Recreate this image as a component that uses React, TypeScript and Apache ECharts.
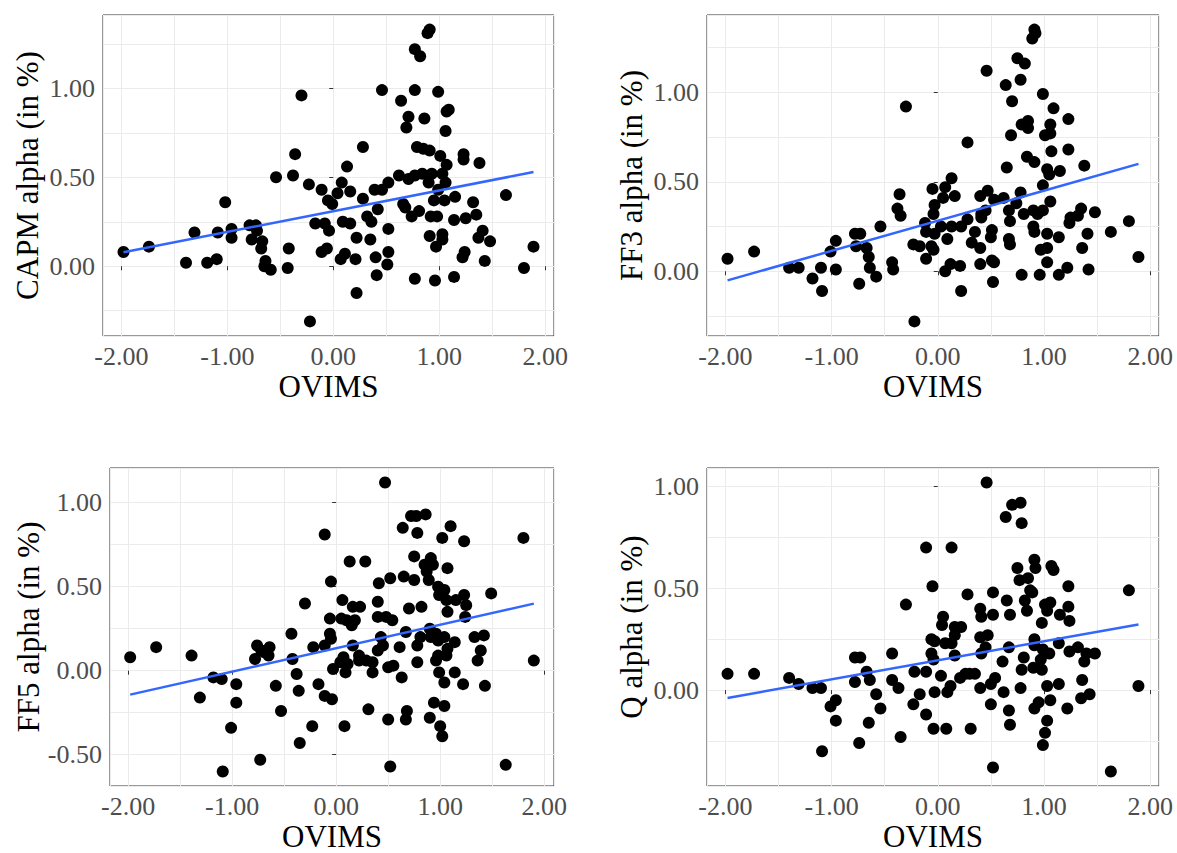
import React, { useEffect, useRef } from 'react';
import * as echarts from 'echarts';

// OVIMS (x) vs alpha (y)
const capmPoints: number[][] = [
  [-1.98,0.08],[-1.74,0.11],[-1.39,0.02],[-1.31,0.19],[-1.19,0.02],[-1.10,0.04],[-1.09,0.19],[-1.02,0.36],[-0.96,0.21],[-0.96,0.16],
  [-0.79,0.23],[-0.73,0.23],[-0.77,0.15],[-0.72,0.20],[-0.67,0.14],[-0.68,0.10],[-0.64,0.03],[-0.59,-0.02],[-0.65,0.00],[-0.43,-0.01],
  [-0.42,0.10],[-0.54,0.50],[-0.38,0.51],[-0.36,0.63],[-0.30,0.96],[-0.23,0.46],[-0.22,-0.31],[-0.17,0.24],[-0.11,0.43],[-0.08,0.24],
  [-0.04,0.20],[-0.11,0.08],[-0.06,0.10],[-0.05,0.37],[-0.01,0.35],[0.04,0.41],[0.08,0.47],[0.16,0.42],[0.07,0.04],[0.11,0.07],
  [0.09,0.25],[0.16,0.24],[0.21,0.04],[0.22,-0.15],[0.22,0.16],[0.13,0.56],[0.28,0.67],[0.28,0.38],[0.32,0.28],[0.36,0.25],
  [0.42,0.32],[0.35,0.15],[0.40,0.05],[0.41,-0.05],[0.39,0.43],[0.46,0.43],[0.46,0.99],[0.52,0.47],[0.52,0.21],[0.51,0.01],
  [0.52,0.08],[0.64,0.93],[0.71,0.84],[0.69,0.78],[0.62,0.51],[0.66,0.35],[0.68,0.33],[0.74,0.28],[0.77,1.22],[0.77,0.99],
  [0.77,-0.07],[0.71,0.49],[0.91,1.33],[0.89,1.31],[0.82,1.18],[0.99,0.98],[1.07,0.87],[1.09,0.88],[0.86,0.83],[1.06,0.76],
  [0.79,0.67],[0.85,0.66],[0.91,0.65],[1.01,0.62],[1.07,0.57],[1.23,0.63],[1.23,0.60],[1.38,0.58],[0.77,0.51],[0.84,0.52],
  [0.93,0.52],[1.03,0.52],[0.90,0.47],[1.06,0.47],[0.99,0.43],[1.15,0.39],[0.95,0.37],[1.05,0.37],[1.32,0.36],[1.63,0.40],
  [0.81,0.31],[0.92,0.28],[0.98,0.28],[1.14,0.26],[1.25,0.27],[1.35,0.29],[0.91,0.17],[1.03,0.18],[1.03,0.15],[0.97,0.11],
  [1.41,0.20],[1.37,0.16],[1.48,0.14],[1.24,0.08],[1.22,0.05],[1.43,0.03],[1.89,0.11],[1.80,-0.01],[0.96,-0.08],[1.14,-0.06]
];

const ff3Points: number[][] = [
  [-1.98,0.07],[-1.73,0.11],[-1.40,0.02],[-1.31,0.02],[-1.18,-0.04],[-1.09,-0.11],[-1.10,0.02],[-0.96,0.01],[-1.01,0.11],[-0.96,0.17],
  [-0.78,0.21],[-0.77,0.14],[-0.74,-0.07],[-0.73,0.21],[-0.67,0.13],[-0.65,0.08],[-0.64,0.02],[-0.58,-0.03],[-0.54,0.25],[-0.43,0.05],
  [-0.42,0.01],[-0.36,0.43],[-0.38,0.35],[-0.35,0.31],[-0.30,0.92],[-0.22,-0.28],[-0.23,0.15],[-0.17,0.14],[-0.11,0.07],[-0.12,0.27],
  [-0.11,0.22],[-0.06,0.14],[-0.04,0.12],[-0.03,0.21],[-0.05,0.46],[-0.03,0.37],[-0.04,0.32],[0.05,0.41],[0.07,0.47],[0.13,0.52],
  [0.16,0.42],[0.03,0.25],[0.09,0.18],[0.13,0.25],[0.22,0.25],[0.28,0.29],[0.28,0.72],[0.07,0.00],[0.12,0.04],[0.21,0.03],
  [0.22,-0.11],[0.32,0.16],[0.35,0.22],[0.40,0.13],[0.41,0.30],[0.41,0.32],[0.40,0.42],[0.47,0.45],[0.45,0.34],[0.40,0.04],
  [0.51,0.06],[0.53,0.05],[0.52,-0.06],[0.51,0.23],[0.50,0.19],[0.46,1.12],[0.53,0.40],[0.62,0.41],[0.67,0.34],[0.68,0.28],
  [0.67,0.18],[0.68,0.15],[0.65,0.58],[0.69,0.76],[0.70,0.95],[0.64,1.04],[0.75,1.19],[0.91,1.35],[0.92,1.33],[0.89,1.30],
  [0.82,1.16],[0.78,1.07],[0.99,0.99],[1.09,0.91],[1.23,0.85],[0.79,0.82],[0.85,0.84],[0.85,0.80],[1.06,0.82],[1.01,0.76],
  [1.06,0.77],[1.23,0.68],[1.07,0.67],[0.84,0.64],[0.91,0.61],[1.03,0.57],[1.05,0.54],[1.15,0.56],[1.38,0.59],[0.99,0.48],
  [0.78,0.44],[0.74,0.38],[1.06,0.39],[0.81,0.32],[0.90,0.34],[0.94,0.32],[0.99,0.34],[0.90,0.25],[0.91,0.22],[1.25,0.30],
  [1.24,0.27],[1.32,0.31],[1.35,0.35],[1.48,0.33],[1.80,0.28],[1.63,0.22],[1.41,0.21],[1.03,0.21],[1.14,0.19],[1.03,0.13],
  [0.97,0.12],[1.36,0.13],[1.03,0.05],[1.22,0.02],[1.42,0.01],[1.89,0.08],[0.79,-0.02],[0.96,-0.02],[1.14,-0.02]
];

const ff5Points: number[][] = [
  [-1.98,0.08],[-1.73,0.14],[-1.39,0.09],[-1.31,-0.16],[-1.18,-0.04],[-1.10,-0.05],[-0.96,-0.08],[-0.96,-0.19],[-1.01,-0.34],[-1.09,-0.60],
  [-0.73,-0.53],[-0.76,0.15],[-0.78,0.07],[-0.72,0.12],[-0.64,0.14],[-0.65,0.09],[-0.69,0.11],[-0.58,-0.09],[-0.53,-0.24],[-0.43,0.22],
  [-0.42,0.07],[-0.38,-0.02],[-0.36,-0.12],[-0.35,-0.43],[-0.30,0.40],[-0.23,-0.33],[-0.22,0.14],[-0.17,-0.08],[-0.11,-0.15],[-0.04,-0.17],
  [-0.11,0.81],[-0.05,0.53],[-0.11,0.15],[-0.06,0.22],[-0.06,0.31],[-0.05,0.19],[-0.03,0.01],[0.04,0.05],[0.07,0.08],[0.09,-0.01],
  [0.11,0.04],[0.08,-0.33],[0.06,0.42],[0.13,0.65],[0.28,0.65],[0.16,0.38],[0.23,0.38],[0.05,0.31],[0.10,0.30],[0.15,0.27],
  [0.18,0.30],[0.16,0.15],[0.22,0.09],[0.22,0.06],[0.29,0.06],[0.35,0.05],[0.35,-0.01],[0.31,-0.23],[0.41,0.52],[0.40,0.41],
  [0.40,0.32],[0.48,0.32],[0.54,0.30],[0.43,0.20],[0.45,0.15],[0.40,0.12],[0.52,0.55],[0.65,0.56],[0.75,0.54],[0.47,1.12],
  [0.64,0.85],[0.72,0.92],[0.77,0.92],[0.78,0.82],[0.75,0.68],[0.70,0.37],[0.67,0.23],[0.61,0.14],[0.50,0.02],[0.55,0.03],
  [0.63,-0.04],[0.78,0.05],[0.78,0.15],[0.68,-0.24],[0.67,-0.29],[0.50,-0.29],[0.52,-0.57],[0.86,0.93],[1.10,0.86],[1.02,0.79],
  [1.23,0.77],[1.80,0.79],[0.91,0.67],[0.85,0.63],[0.93,0.63],[0.87,0.59],[1.07,0.61],[0.89,0.54],[0.98,0.50],[1.04,0.48],
  [0.99,0.45],[1.06,0.42],[1.15,0.42],[1.23,0.45],[1.25,0.39],[1.49,0.46],[0.82,0.38],[1.07,0.35],[1.24,0.32],[0.81,0.20],
  [0.90,0.25],[0.91,0.20],[0.96,0.22],[0.98,0.18],[1.04,0.20],[1.14,0.17],[1.33,0.20],[1.42,0.21],[1.39,0.12],[1.36,0.06],
  [1.90,0.06],[0.96,0.06],[0.98,0.09],[1.07,0.13],[1.06,0.09],[0.99,-0.01],[1.04,-0.07],[1.14,-0.01],[1.22,-0.08],[1.43,-0.09],
  [0.94,-0.19],[1.04,-0.21],[0.90,-0.28],[1.00,-0.33],[1.02,-0.39],[1.63,-0.56]
];

const qPoints: number[][] = [
  [-1.98,0.08],[-1.73,0.08],[-1.40,0.06],[-1.31,0.03],[-1.18,0.01],[-1.10,0.01],[-1.01,-0.08],[-0.96,-0.05],[-0.96,-0.15],[-1.09,-0.30],
  [-0.74,-0.26],[-0.78,0.16],[-0.78,0.04],[-0.73,0.16],[-0.67,0.09],[-0.64,0.05],[-0.58,-0.02],[-0.54,-0.09],[-0.65,-0.16],[-0.43,0.18],
  [-0.43,0.05],[-0.37,0.01],[-0.35,-0.23],[-0.30,0.42],[-0.22,0.09],[-0.23,-0.07],[-0.17,-0.02],[-0.11,0.09],[-0.11,-0.12],[-0.11,0.70],
  [-0.05,0.51],[-0.06,0.25],[-0.03,0.24],[-0.06,0.18],[-0.04,0.15],[-0.03,-0.01],[-0.04,-0.19],[0.03,0.07],[0.05,0.36],[0.04,0.32],
  [0.07,0.23],[0.13,0.23],[0.13,0.70],[0.09,-0.01],[0.12,0.02],[0.08,-0.19],[0.16,0.17],[0.16,0.31],[0.16,0.27],[0.22,0.31],
  [0.21,0.06],[0.26,0.08],[0.30,0.08],[0.35,0.08],[0.28,0.47],[0.31,-0.19],[0.40,0.40],[0.41,0.36],[0.40,0.26],[0.47,0.27],
  [0.45,0.21],[0.41,0.18],[0.40,0.01],[0.50,0.03],[0.54,0.06],[0.50,-0.07],[0.52,0.48],[0.52,0.37],[0.46,1.02],[0.52,-0.38],
  [0.61,0.14],[0.62,-0.01],[0.65,0.44],[0.68,0.37],[0.67,0.21],[0.67,-0.10],[0.68,-0.17],[0.64,0.85],[0.70,0.91],[0.78,0.92],
  [0.79,0.82],[0.75,0.60],[0.77,0.54],[0.91,0.64],[0.92,0.60],[0.85,0.55],[1.07,0.61],[1.09,0.59],[1.23,0.51],[1.80,0.49],
  [0.87,0.49],[0.89,0.48],[0.82,0.44],[0.84,0.39],[1.01,0.42],[1.06,0.43],[1.03,0.39],[1.23,0.41],[1.15,0.37],[1.24,0.34],
  [0.98,0.33],[0.91,0.25],[0.91,0.22],[0.99,0.20],[1.05,0.18],[0.97,0.15],[1.14,0.23],[1.24,0.19],[1.32,0.21],[1.40,0.18],
  [1.48,0.18],[1.38,0.14],[0.81,0.16],[0.79,0.10],[0.90,0.11],[0.98,0.10],[0.78,0.01],[1.03,0.02],[1.14,0.03],[1.36,0.05],
  [1.43,-0.02],[1.35,-0.04],[1.06,-0.05],[0.95,-0.06],[0.91,-0.09],[1.22,-0.09],[1.03,-0.15],[1.01,-0.21],[0.99,-0.27],[1.89,0.02],
  [1.63,-0.40]
];

const xTickValues = [-2, -1, 0, 1, 2];
const yTickValues = [-0.5, 0, 0.5, 1];
const xAxisTitle = 'OVIMS';
const yAxisTitles = ['CAPM alpha (in %)', 'FF3 alpha (in %)', 'FF5 alpha (in %)', 'Q alpha (in %)'];

const FONT = "'Liberation Serif', 'DejaVu Serif', serif";

function olsFit(pts: number[][]) {
  const n = pts.length;
  let sx = 0, sy = 0, sxx = 0, sxy = 0;
  pts.forEach(([x, y]) => { sx += x; sy += y; sxx += x * x; sxy += x * y; });
  const b = (n * sxy - sx * sy) / (n * sxx - sx * sx);
  const a = (sy - b * sx) / n;
  const xs = pts.map(p => p[0]);
  const x0 = Math.min(...xs), x1 = Math.max(...xs);
  return [[x0, a + b * x0], [x1, a + b * x1]];
}

function padded(vals: number[]) {
  const lo = Math.min(...vals), hi = Math.max(...vals);
  const r = hi - lo;
  return [lo - 0.05 * r, hi + 0.05 * r];
}

export default function App() {
  const ref = useRef<HTMLDivElement>(null);
  useEffect(() => {
    if (!ref.current) return;
    const chart = echarts.init(ref.current, undefined, { renderer: 'svg' });
    const panels = [capmPoints, ff3Points, ff5Points, qPoints];
    const grids = [
      { left: 103, top: 15, width: 451, height: 321 },
      { left: 707, top: 15, width: 452, height: 321 },
      { left: 110, top: 468, width: 444, height: 320 },
      { left: 707, top: 468, width: 452, height: 320 },
    ];
    const xAxes: any[] = [];
    const yAxes: any[] = [];
    const series: any[] = [];
    const isOn = (v: number, step: number) => Math.abs(v / step - Math.round(v / step)) < 1e-6;
    panels.forEach((pts, i) => {
      const [xmin, xmax] = padded(pts.map(p => p[0]));
      const [ymin, ymax] = padded(pts.map(p => p[1]));
      const xt = xTickValues.filter(v => v >= xmin && v <= xmax);
      const yt = yTickValues.filter(v => v >= ymin && v <= ymax);
      // grid-line axes
      xAxes.push({
        type: 'value', gridIndex: i, min: xmin, max: xmax, minInterval: 0.5, maxInterval: 0.5, position: 'bottom',
        axisLine: { show: false }, axisTick: { show: false }, axisLabel: { show: false },
        splitLine: { show: true, lineStyle: { color: '#ebebeb', width: 1 } },
      });
      yAxes.push({
        type: 'value', gridIndex: i, min: ymin, max: ymax, minInterval: 0.25, maxInterval: 0.25, position: 'left',
        axisLine: { show: false }, axisTick: { show: false }, axisLabel: { show: false },
        splitLine: { show: true, lineStyle: { color: '#ebebeb', width: 1 } },
      });
      // tick / label axes
      xAxes.push({
        type: 'value', gridIndex: i, min: xmin, max: xmax, minInterval: 1, maxInterval: 1, position: 'bottom',
        axisLine: { show: false },
        axisTick: { show: true, customValues: xt, length: 4, lineStyle: { color: '#333333', width: 1 } },
        axisLabel: {
          customValues: xt,
          formatter: (v: number) => (isOn(v, 1) ? v.toFixed(2) : ''),
          color: '#4d4d4d', fontSize: 26, fontFamily: FONT, margin: 7,
        },
        splitLine: { show: false },
        name: xAxisTitle, nameLocation: 'middle', nameGap: 35,
        nameTextStyle: { color: '#000', fontSize: 31, fontFamily: FONT },
      });
      yAxes.push({
        type: 'value', gridIndex: i, min: ymin, max: ymax, minInterval: 0.5, maxInterval: 0.5, position: 'left',
        axisLine: { show: false },
        axisTick: { show: true, customValues: yt, length: 4, lineStyle: { color: '#333333', width: 1 } },
        axisLabel: {
          customValues: yt,
          formatter: (v: number) => (isOn(v, 0.5) ? v.toFixed(2) : ''),
          color: '#4d4d4d', fontSize: 26, fontFamily: FONT, margin: 8,
        },
        splitLine: { show: false },
        name: yAxisTitles[i], nameLocation: 'middle', nameGap: 60, nameRotate: 90,
        nameTextStyle: { color: '#000', fontSize: 31, fontFamily: FONT },
      });
      series.push({
        type: 'scatter', xAxisIndex: 2 * i, yAxisIndex: 2 * i, data: pts,
        symbol: 'circle', symbolSize: 12, itemStyle: { color: '#000000', opacity: 1 }, z: 2,
      });
      series.push({
        type: 'line', xAxisIndex: 2 * i, yAxisIndex: 2 * i, data: olsFit(pts),
        symbol: 'none', lineStyle: { color: '#3366FF', width: 2.5 }, z: 3, silent: true,
      });
    });
    chart.setOption({
      animation: false,
      backgroundColor: '#ffffff',
      grid: grids.map(g => ({ ...g, show: true, borderColor: '#333333', borderWidth: 1, backgroundColor: '#ffffff', containLabel: false })),
      xAxis: xAxes,
      yAxis: yAxes,
      series,
    });
    return () => chart.dispose();
  }, []);
  return <div ref={ref} style={{ position: 'fixed', left: 0, top: 0, width: 1177, height: 853, background: '#fff' }} />;
}
